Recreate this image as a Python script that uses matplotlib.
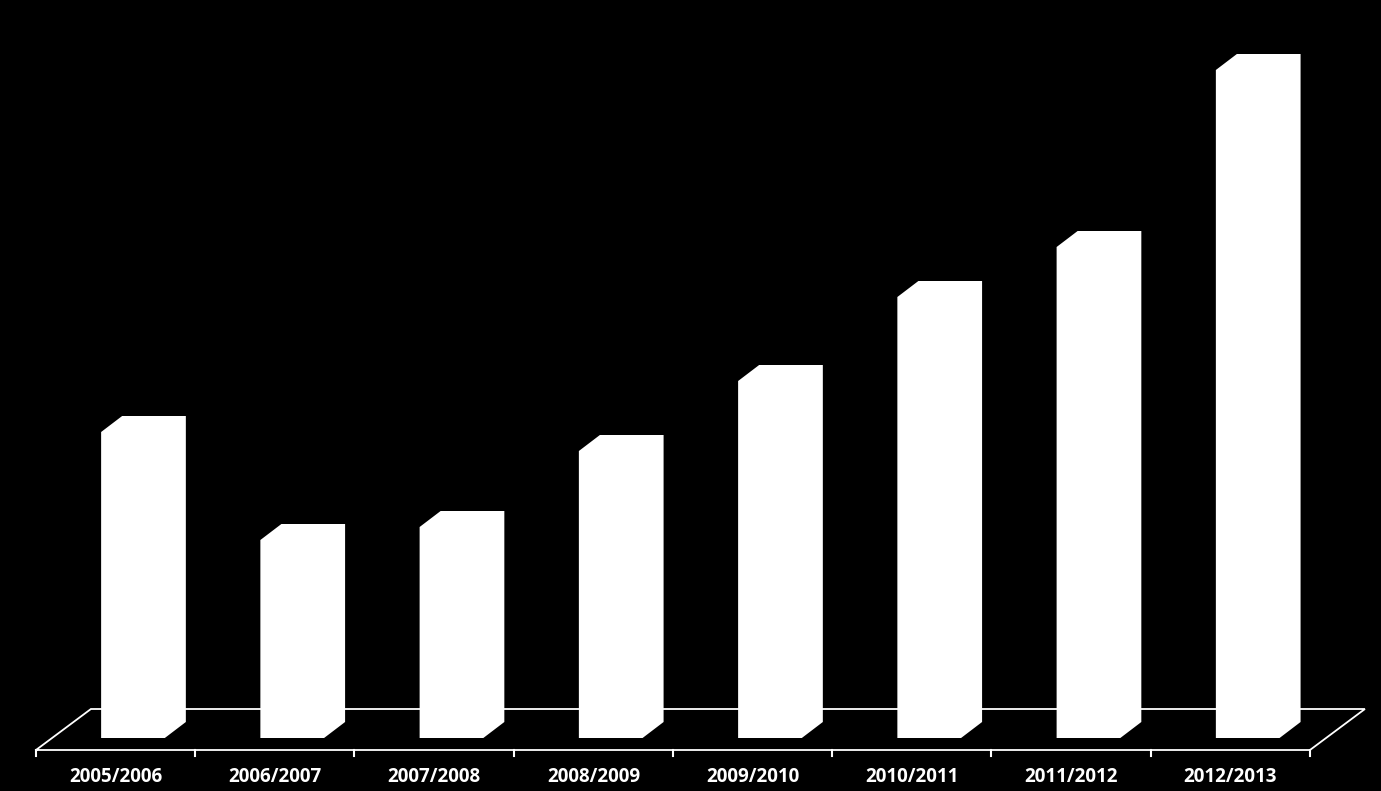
import matplotlib.pyplot as plt
from matplotlib.patches import Polygon

seasons = ['2005/2006', '2006/2007', '2007/2008', '2008/2009',
           '2009/2010', '2010/2011', '2011/2012', '2012/2013']
values = [306, 198, 211, 287, 357, 441, 491, 668]

# pseudo 3d look
barWidth = 0.40
depthX = 0.132
depthY = 16
floorShiftX = 0.345
floorFrontY = -12
floorBackY = 29
frontOffset = -0.109

fig = plt.figure(figsize=(13.81, 7.91), dpi=100, facecolor='black')
ax = fig.add_axes([0, 0, 1, 1])
ax.set_facecolor('black')
ax.set_xlim(-0.835, 7.837)
ax.set_ylim(-53, 738)
ax.axis('off')

n = len(seasons)
left = -0.5 + frontOffset
right = n - 0.5 + frontOffset

# floor outline
floorX = [left, right, right + floorShiftX, left + floorShiftX, left]
floorY = [floorFrontY, floorFrontY, floorBackY, floorBackY, floorFrontY]
ax.plot(floorX, floorY, color='white', lw=1.3, solid_joinstyle='miter')

# tick marks on the front edge
for k in range(n + 1):
    xk = left + k
    ax.plot([xk, xk], [floorFrontY, floorFrontY - 6], color='white', lw=1.5)

for i, v in enumerate(values):
    x0 = i - barWidth / 2
    x1 = i + barWidth / 2
    pts = [(x0, 0), (x0, v), (x0 + depthX, v + depthY), (x1 + depthX, v + depthY),
           (x1 + depthX, depthY), (x1, 0)]
    ax.add_patch(Polygon(pts, closed=True, facecolor='white', edgecolor='none', zorder=3))
    ax.text(i + frontOffset, floorFrontY - 27, seasons[i], color='white', ha='center',
            va='center', fontsize=13.5, fontweight='bold', family='Open Sans')

fig.savefig('out.png', dpi=100, facecolor='black')
